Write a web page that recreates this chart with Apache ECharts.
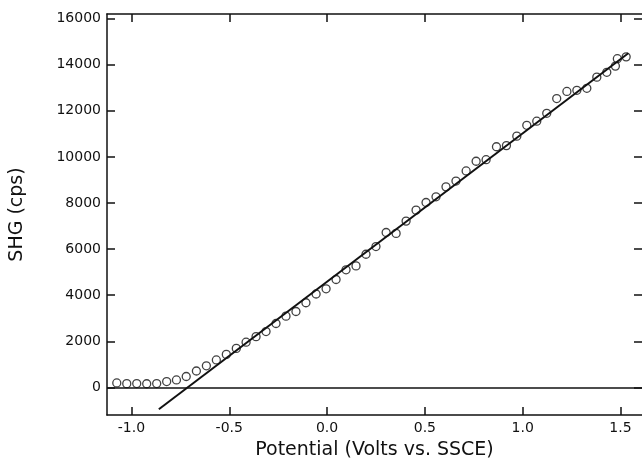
<!DOCTYPE html>
<html>
<head>
<meta charset="utf-8">
<script src="https://cdn.jsdelivr.net/npm/echarts@6/dist/echarts.min.js"></script>
<style>
  html, body { margin: 0; padding: 0; background: #fff; }
  #chart { width: 642px; height: 465px; }
</style>
</head>
<body>
<div id="chart"></div>
<script>
// measured SHG signal vs electrode potential
let potential = [
  -1.075, -1.024, -0.973, -0.922, -0.871, -0.820, -0.770, -0.720, -0.668, -0.617,
  -0.566, -0.515, -0.464, -0.414, -0.363, -0.312, -0.261, -0.210, -0.159, -0.108,
  -0.056, -0.005, 0.046, 0.097, 0.148, 0.199, 0.250, 0.302, 0.353, 0.404,
  0.455, 0.506, 0.557, 0.608, 0.659, 0.711, 0.762, 0.813, 0.866, 0.917,
  0.970, 1.021, 1.072, 1.123, 1.174, 1.226, 1.277, 1.328, 1.379, 1.430,
  1.474, 1.484, 1.529
];
let shg = [
  190, 160, 165, 155, 165, 250, 320, 470, 710, 935,
  1190, 1430, 1690, 1960, 2200, 2420, 2770, 3090, 3290, 3670,
  4050, 4275, 4680, 5100, 5270, 5775, 6108, 6720, 6680, 7214,
  7689, 8020, 8268, 8700, 8950, 9390, 9810, 9879, 10440, 10490,
  10900, 11370, 11550, 11890, 12530, 12840, 12890, 12976, 13460, 13670,
  13939, 14260, 14341
];
// linear fit end points
let fitX = [-0.86, 1.54];
let fitY = [-950, 14500];
// tick values
let xTicks = [-1.0, -0.5, 0.0, 0.5, 1.0, 1.5];
let yTicks = [0, 2000, 4000, 6000, 8000, 10000, 12000, 14000, 16000];

let X_MIN = -1.125;
let X_MAX = 1.61;
let Y_MIN = -1200;
let Y_MAX = 16200;
let INK = '#111';
let FONT = 'DejaVu Sans';

let chart = echarts.init(document.getElementById('chart'));

function xAxisBase (pos) {
  return {
    type: 'value',
    position: pos,
    min: X_MIN,
    max: X_MAX,
    splitLine: { show: false },
    axisLine: { show: true, onZero: false, lineStyle: { color: INK, width: 1.5 } },
    axisTick: { show: true, inside: true, length: 8, customValues: xTicks, lineStyle: { color: INK, width: 1.5 } },
    axisLabel: { show: false }
  };
}
function yAxisBase (pos) {
  return {
    type: 'value',
    position: pos,
    min: Y_MIN,
    max: Y_MAX,
    splitLine: { show: false },
    axisLine: { show: pos === 'left', onZero: false, lineStyle: { color: INK, width: 1.5 } },
    axisTick: { show: true, inside: true, length: 8, customValues: yTicks, lineStyle: { color: INK, width: 1.5 } },
    axisLabel: { show: false }
  };
}

let xBottom = xAxisBase('bottom');
xBottom.name = 'Potential (Volts vs. SSCE)';
xBottom.nameLocation = 'middle';
xBottom.nameGap = 26;
xBottom.nameTextStyle = { fontFamily: FONT, fontSize: 19, color: INK };
xBottom.axisLabel = {
  show: true,
  customValues: xTicks,
  margin: 6,
  fontFamily: FONT,
  fontSize: 14,
  color: INK,
  formatter: function (v) { return v.toFixed(1); }
};

let yLeft = yAxisBase('left');
yLeft.name = 'SHG (cps)';
yLeft.nameLocation = 'middle';
yLeft.nameGap = 80;
yLeft.nameTextStyle = { fontFamily: FONT, fontSize: 19, color: INK };
yLeft.axisLabel = {
  show: true,
  customValues: yTicks,
  margin: 6,
  fontFamily: FONT,
  fontSize: 14,
  color: INK,
  formatter: function (v) { return String(v); }
};

let option = {
  backgroundColor: '#fff',
  animation: false,
  grid: { left: 107, top: 14, right: 0, bottom: 48 },
  xAxis: [xBottom, xAxisBase('top')],
  yAxis: [yLeft, yAxisBase('right')],
  series: [
    {
      name: 'fit',
      type: 'line',
      xAxisIndex: 0,
      yAxisIndex: 0,
      data: fitX.map(function (x, i) { return [x, fitY[i]]; }),
      showSymbol: false,
      lineStyle: { color: INK, width: 2 },
      markLine: {
        silent: true,
        symbol: 'none',
        label: { show: false },
        lineStyle: { color: INK, width: 1.5, type: 'solid' },
        data: [{ yAxis: 0 }]
      },
      z: 3
    },
    {
      name: 'SHG',
      type: 'scatter',
      xAxisIndex: 0,
      yAxisIndex: 0,
      data: potential.map(function (x, i) { return [x, shg[i]]; }),
      symbol: 'circle',
      symbolSize: 8,
      itemStyle: { color: 'rgba(255,255,255,0)', borderColor: INK, borderWidth: 1.3 },
      z: 2
    }
  ]
};

chart.setOption(option);
</script>
</body>
</html>
